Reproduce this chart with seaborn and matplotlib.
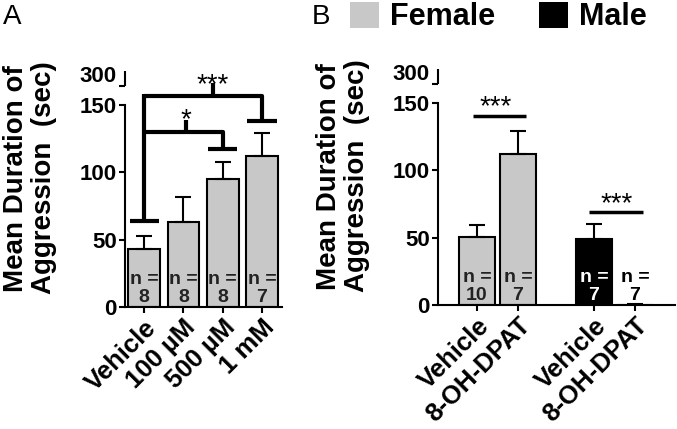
#!/usr/bin/env python
"""
Mean duration of aggression after drug treatment (A) and in female
versus male animals given Vehicle or 8-OH-DPAT (B).
"""
# Third-party
import matplotlib.pyplot as plt
import matplotlib.transforms as mtransforms
import pandas as pd
import seaborn as sns
from matplotlib.patches import Patch

# Panel A data
A_LABELS = ["Vehicle", "100 µM", "500 µM", "1 mM"]
A_MEANS = [42.8, 63.3, 95.0, 112.3]
A_SEM = [10.2, 18.7, 13.0, 16.7]
A_N = [8, 8, 8, 7]

# Panel B data
B_LABELS = ["Vehicle", "8-OH-DPAT", "Vehicle", "8-OH-DPAT"]
B_SEX = ["Female", "Female", "Male", "Male"]
B_MEANS = [50.2, 112.0, 48.7, 0.0]
B_SEM = [9.5, 17.0, 11.3, 1.0]
B_N = [10, 7, 7, 7]

Y_TICKS = [0, 50, 100, 150]
BREAK_LABEL = "300"

# Constants
W, H = 677, 429
GRAY = "#c8c8c8"
PALETTE = {"Female": GRAY, "Male": "black"}
BREAK_LOW, BREAK_HIGH = 164, 175  # short axis bit above the break
YLABEL = "Mean Duration of\nAggression  (sec)"


def px_axes(fig, left, top, right, bottom):
    """
    Add an axes given in pixel coordinates of the 677x429 figure
    """
    return fig.add_axes(
        [left / W, 1 - bottom / H, (right - left) / W, (bottom - top) / H]
    )


def style_axis(ax, label_x):
    """
    Prism-like broken y axis: 0-150 then a short segment labelled 300
    """
    ax.set_ylim(0, BREAK_HIGH)
    ax.set_yticks(
        Y_TICKS + [BREAK_LOW],
        [str(t) for t in Y_TICKS] + [BREAK_LABEL],
        fontsize=16,
        fontweight="bold",
    )
    sns.despine(ax=ax)
    ax.spines["left"].set_bounds(0, 150)
    trans = mtransforms.blended_transform_factory(ax.transAxes, ax.transData)
    ax.plot(
        [0, 0],
        [BREAK_LOW, BREAK_HIGH],
        transform=trans,
        color="black",
        lw=1.5,
        clip_on=False,
        solid_capstyle="butt",
    )
    ax.tick_params(width=1.5, length=4.5, pad=1.5, color="black")
    # lift the "300" label so it sits beside the short segment
    # (after tick_params, which resets the label transforms)
    label = ax.get_yticklabels()[-1]
    label.set_transform(
        label.get_transform()
        + mtransforms.ScaledTranslation(0, 9 / 72, ax.figure.dpi_scale_trans)
    )
    ax.set_xlabel("")
    ax.set_ylabel(YLABEL, fontsize=20, fontweight="bold", linespacing=1.1)
    ax.yaxis.set_label_coords(label_x, 0.547)
    ax.yaxis.label.set_va("center")


def n_labels(ax, xs, counts, colors):
    for x, n, c in zip(xs, counts, colors):
        ax.text(
            x,
            0.8,
            f"n =\n{n}",
            ha="center",
            va="bottom",
            fontsize=14,
            fontweight="bold",
            color=c,
            linespacing=1.1,
        )


def plot_panel_a(fig):
    """
    Bar chart of the dose series with significance brackets
    """
    ax = px_axes(fig, 125, 71.3, 282, 307)
    data = pd.DataFrame({"Treatment": A_LABELS, "Mean": A_MEANS})
    sns.barplot(
        data,
        x="Treatment",
        y="Mean",
        color=GRAY,
        edgecolor="black",
        linewidth=1.5,
        width=0.81,
        errorbar=None,
        ax=ax,
    )
    xs = list(range(len(A_LABELS)))
    ax.errorbar(
        xs,
        A_MEANS,
        yerr=[[0] * len(xs), A_SEM],
        fmt="none",
        ecolor="black",
        elinewidth=1.5,
        capsize=6,
        capthick=1.5,
        zorder=1,
    )
    ax.set_xlim(-0.49, 3.51)
    ax.set_xticks(
        xs,
        A_LABELS,
        rotation=45,
        ha="right",
        rotation_mode="anchor",
        fontsize=18.5,
        fontweight="bold",
    )
    style_axis(ax, -0.602)
    n_labels(ax, xs, A_N, ["#222222"] * 4)

    # Significance brackets
    kw = dict(color="black", lw=3, clip_on=False, solid_capstyle="butt")
    ax.plot([-0.37, 0.37], [64, 64], **kw)
    ax.plot([0, 0], [64, 158], **kw)
    ax.plot([0, 3, 3], [157, 157, 138], **kw)
    ax.plot([2.63, 3.37], [138, 138], **kw)
    ax.plot([0, 2, 2], [129.7, 129.7, 117], **kw)
    ax.plot([1.63, 2.37], [117, 117], **kw)
    ax.plot([1.07, 1.07], [129.7, 139], **kw)
    ax.plot([1.74, 1.74], [157, 166], **kw)
    ax.text(1.07, 129, "*", ha="center", va="bottom", fontsize=20)
    ax.text(1.74, 155, "***", ha="center", va="bottom", fontsize=20)
    return ax


def plot_panel_b(fig):
    """
    Bar chart of female and male groups with a gap between the sexes
    """
    ax = px_axes(fig, 438, 69.3, 675, 305)
    group_gap = 0.85
    pos = [i + (group_gap if s == "Male" else 0) for i, s in enumerate(B_SEX)]
    data = pd.DataFrame({"pos": pos, "Mean": B_MEANS, "Sex": B_SEX})
    sns.barplot(
        data,
        x="pos",
        y="Mean",
        hue="Sex",
        palette=PALETTE,
        native_scale=True,
        dodge=False,
        width=0.88,
        edgecolor="black",
        linewidth=1.5,
        errorbar=None,
        legend=False,
        ax=ax,
    )
    ax.errorbar(
        pos,
        B_MEANS,
        yerr=[[0] * len(pos), B_SEM],
        fmt="none",
        ecolor="black",
        elinewidth=1.5,
        capsize=6,
        capthick=1.5,
        zorder=1,
    )
    ax.set_xlim(pos[0] - 0.95, pos[-1] + 0.98)
    ax.set_xticks(
        pos,
        B_LABELS,
        rotation=45,
        ha="right",
        rotation_mode="anchor",
        fontsize=18.5,
        fontweight="bold",
    )
    style_axis(ax, -0.40)
    n_labels(ax, pos, B_N, ["#222222", "#222222", "white", "black"])

    kw = dict(color="black", lw=2.5, solid_capstyle="butt")
    ax.plot([pos[0] - 0.1, pos[1] + 0.2], [140, 140], **kw)
    ax.plot([pos[2] - 0.12, pos[3] + 0.2], [69, 69], **kw)
    ax.text((pos[0] + pos[1]) / 2 - 0.05, 137, "***", ha="center",
            va="bottom", fontsize=20)
    ax.text((pos[2] + pos[3]) / 2 + 0.05, 65, "***", ha="center",
            va="bottom", fontsize=20)
    return ax


def main():
    sns.set_theme(style="ticks")
    plt.rcParams["font.family"] = ["Liberation Sans", "DejaVu Sans"]
    plt.rcParams["axes.edgecolor"] = "black"
    plt.rcParams["axes.linewidth"] = 1.5
    plt.rcParams["text.color"] = "black"
    plt.rcParams["axes.labelcolor"] = "black"
    plt.rcParams["xtick.color"] = "black"
    plt.rcParams["ytick.color"] = "black"

    fig = plt.figure(figsize=(W / 100, H / 100), dpi=100)
    plot_panel_a(fig)
    plot_panel_b(fig)

    fig.text(3 / W, 1 - 4 / H, "A", fontsize=20, va="top")
    fig.text(312 / W, 1 - 4 / H, "B", fontsize=20, va="top")
    fig.legend(
        handles=[
            Patch(facecolor=GRAY, edgecolor="none"),
            Patch(facecolor="black", edgecolor="none"),
        ],
        labels=["Female", "Male"],
        loc="center left",
        bbox_to_anchor=(350 / W, 1 - 17 / H),
        ncol=2,
        frameon=False,
        prop={"weight": "bold", "size": 22},
        handlelength=0.95,
        handleheight=0.95,
        handletextpad=0.36,
        columnspacing=1.45,
        borderpad=0,
        borderaxespad=0,
    )

    fig.savefig("out.png", dpi=100)


if __name__ == "__main__":
    main()
